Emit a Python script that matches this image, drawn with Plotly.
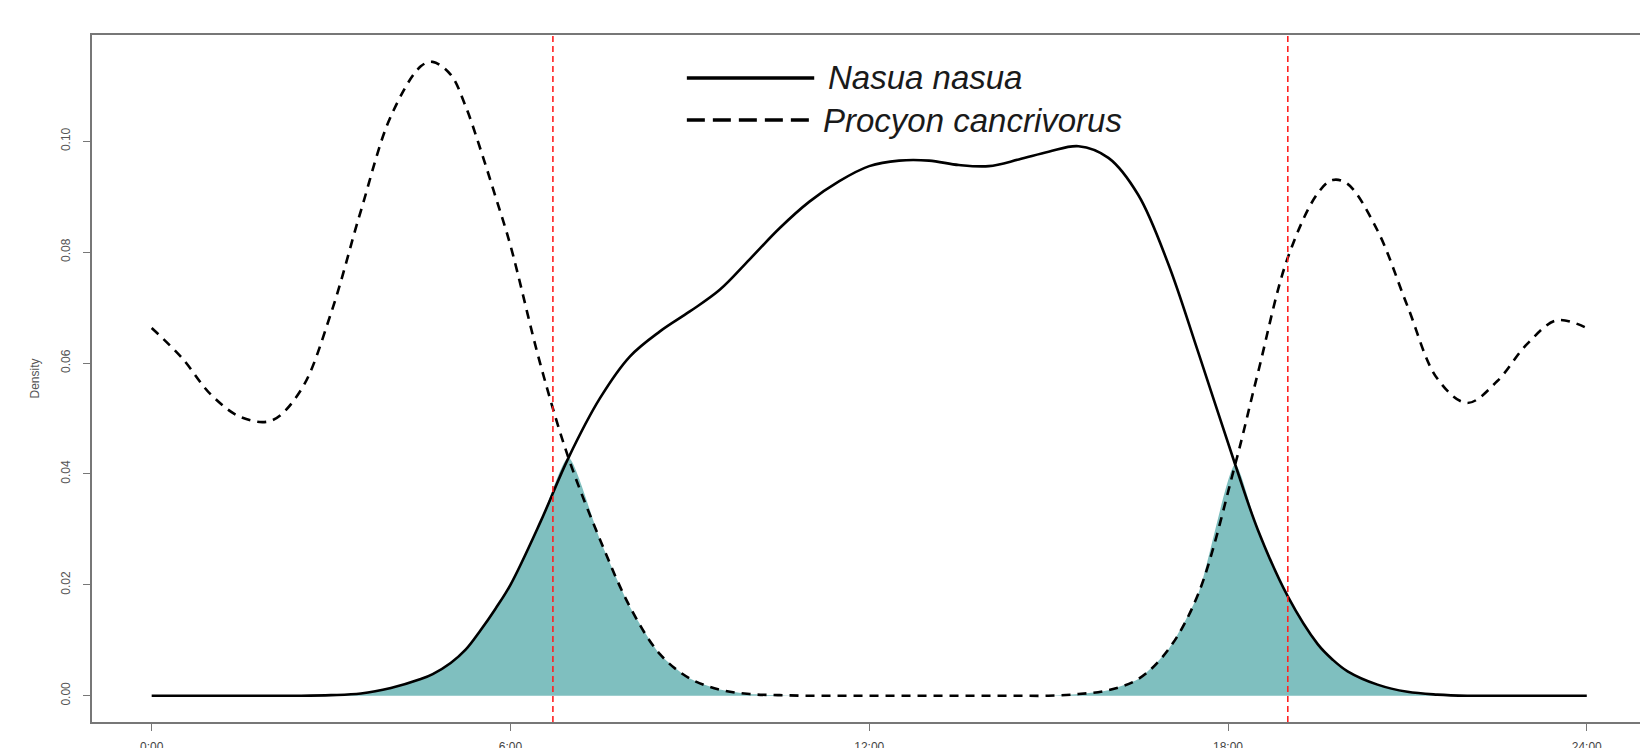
import numpy as np
import plotly.graph_objects as go

# Hours of day (common grid for both density curves)
hours = [0.0, 0.5, 1.0, 1.5, 2.0, 2.5, 3.0, 3.5, 4.0, 4.5, 4.7, 5.0, 5.25, 5.5, 5.75, 6.0, 6.5,
         6.97, 7.5, 8.0, 8.5, 9.0, 9.5, 10.0, 10.5, 11.0, 11.5, 12.0, 12.5, 13.0,
         13.5, 14.0, 14.5, 15.0, 15.5, 16.0, 16.5, 17.0, 17.5, 18.12, 18.5, 19.0,
         19.5, 19.75, 20.0, 20.5, 21.0, 21.5, 22.0, 22.5, 23.0, 23.5, 24.0]

# Nasua nasua (solid)
nasua = [0.0, 0.0, 0.0, 0.0, 0.0, 0.0, 0.0001, 0.0004, 0.0014, 0.0030, 0.0039, 0.0059,
         0.0083, 0.0118, 0.0157, 0.0200, 0.0313, 0.0429, 0.0537, 0.0612, 0.0657, 0.0693, 0.0732,
         0.0787, 0.0843, 0.0891, 0.0928, 0.0955, 0.0965, 0.0965, 0.0957, 0.0955,
         0.0967, 0.0981, 0.0991, 0.0970, 0.0903, 0.0779, 0.0620, 0.0417, 0.0299,
         0.0179, 0.0093, 0.0065, 0.0044, 0.0020, 0.0007, 0.0002, 0.0, 0.0, 0.0,
         0.0, 0.0]

# Procyon cancrivorus (dashed)
procyon = [0.0663, 0.0610, 0.0542, 0.0502, 0.0496, 0.0552, 0.0690, 0.0875, 0.1045,
           0.1135, 0.1143, 0.1120, 0.1063, 0.0985, 0.0900, 0.0812, 0.0598, 0.0429, 0.0281, 0.0160,
           0.0075, 0.0031, 0.0011, 0.0003, 0.0001, 0.0, 0.0, 0.0, 0.0, 0.0, 0.0,
           0.0, 0.0, 0.0, 0.0003, 0.0010, 0.0030, 0.0083, 0.0183, 0.0417, 0.0582,
           0.0790, 0.0906, 0.0930, 0.0923, 0.0839, 0.0703, 0.0572, 0.0528, 0.0567,
           0.0634, 0.0677, 0.0663]

sun_times = [6.71, 19.0]
tick_vals = [0, 6, 12, 18, 24]
tick_text = ["0:00", "6:00", "12:00", "18:00", "24:00"]
y_ticks = [0.0, 0.02, 0.04, 0.06, 0.08, 0.10]
y_text = ["0.00", "0.02", "0.04", "0.06", "0.08", "0.10"]

overlap = np.minimum(np.array(nasua), np.array(procyon))

fig = go.Figure()
fig.add_trace(go.Scatter(x=hours, y=overlap, mode="lines", line=dict(width=0, shape="spline", smoothing=0.6),
                         fill="tozeroy", fillcolor="#7FBFBF", hoverinfo="skip", showlegend=False))
fig.add_trace(go.Scatter(x=hours, y=nasua, mode="lines", name="Nasua nasua",
                         line=dict(color="black", width=2.6, shape="spline", smoothing=1.0), showlegend=False))
fig.add_trace(go.Scatter(x=hours, y=procyon, mode="lines", name="Procyon cancrivorus",
                         line=dict(color="black", width=2.6, dash="9px,7px", shape="spline", smoothing=1.0),
                         showlegend=False))

for t in sun_times:
    fig.add_shape(type="line", xref="x", yref="paper", x0=t, x1=t, y0=0, y1=1,
                  line=dict(color="#FF2020", width=1.6, dash="6px,4px"), layer="above")

# manual legend
fig.add_shape(type="line", xref="x", yref="y", x0=8.95, x1=11.08, y0=0.1114, y1=0.1114,
              line=dict(color="black", width=3.5))
fig.add_shape(type="line", xref="x", yref="y", x0=8.95, x1=11.08, y0=0.1038, y1=0.1038,
              line=dict(color="black", width=3.5, dash="18px,8px"))
fig.add_annotation(x=11.28, y=0.1114, xref="x", yref="y", text="<i>Nasua nasua</i>", showarrow=False,
                   xanchor="left", yanchor="middle", font=dict(family="Liberation Sans", size=33, color="#1a1a1a"))
fig.add_annotation(x=11.20, y=0.1038, xref="x", yref="y", text="<i>Procyon cancrivorus</i>", showarrow=False,
                   xanchor="left", yanchor="middle", font=dict(family="Liberation Sans", size=33, color="#1a1a1a"))

fig.update_layout(
    width=1640, height=748,
    margin=dict(l=92, r=0, t=35, b=26, autoexpand=False),
    paper_bgcolor="white", plot_bgcolor="white",
    font=dict(family="Liberation Sans", color="#555555", size=12),
)
fig.update_xaxes(range=[-0.998, 24.89], tickvals=tick_vals, ticktext=tick_text, automargin=False,
                 showgrid=False, zeroline=False, showline=True, mirror=True,
                 linecolor="#777777", linewidth=1.5, ticks="outside", ticklen=7, tickcolor="#777777",
                 tickfont=dict(size=12, color="#444444"), ticklabelstandoff=6)
fig.update_yaxes(range=[-0.00474, 0.11915], tickvals=y_ticks, ticktext=y_text, tickangle=-90, automargin=False,
                 showgrid=False, zeroline=False, showline=True, mirror=False,
                 linecolor="#777777", linewidth=1.5, ticks="outside", ticklen=7, tickcolor="#777777",
                 tickfont=dict(size=12, color="#555555"), ticklabelstandoff=8,
                 title=dict(text="Density", font=dict(size=12, color="#555555"), standoff=17))

fig.write_html("out.html", config={"displayModeBar": False},
               post_script="document.body.style.margin='0';document.body.style.overflow='hidden';")
